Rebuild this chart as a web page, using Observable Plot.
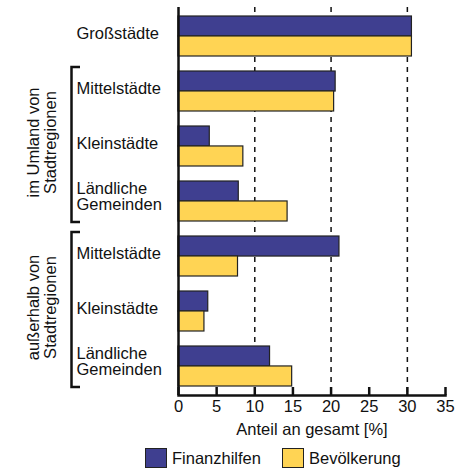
<!DOCTYPE html>
<html><head><meta charset="utf-8">
<script src="https://cdn.jsdelivr.net/npm/d3@7"></script>
<script src="https://cdn.jsdelivr.net/npm/@observablehq/plot@0.6"></script>
<style>
body{margin:0;background:#fff;font-family:"Liberation Sans",Arial,sans-serif;}
#legend{display:flex;align-items:center;height:26px;padding-left:145px;font-size:16.5px;color:#111;}
.sw{width:20px;height:18px;border:1.5px solid #222;margin-right:5px;box-sizing:content-box;}
.item{display:flex;align-items:center;margin-right:21px;}
</style></head><body><div id="chart"></div><div id="legend"></div>
<script>
const categories = ["Großstädte","Mittelstädte","Kleinstädte","Ländliche\nGemeinden","Mittelstädte","Kleinstädte","Ländliche\nGemeinden"];
const finanzhilfen = [30.6, 20.6, 4.1, 7.9, 21.1, 3.9, 12.0];
const bevoelkerung = [30.6, 20.4, 8.5, 14.3, 7.8, 3.4, 14.9];
const xTicks = [0, 5, 10, 15, 20, 25, 30, 35];
const gridValues = [10, 20, 30];
const seriesNames = ["Finanzhilfen", "Bevölkerung"];
const seriesColors = ["#3f3f90", "#ffd454"];
const groupLabels = ["im Umland von\nStadtregionen", "außerhalb von\nStadtregionen"];
const groupFrom = [1, 4];
const groupTo = [3, 6];
const axisLabel = "Anteil an gesamt [%]";

const idx = d3.range(categories.length);
const rows = idx.map(i => ({i, cat: categories[i], fin: finanzhilfen[i], bev: bevoelkerung[i]}));
const W = 459, H = 445, mL = 178, mR = 14, mT = 7, mB = 50;
const FONT = "Liberation Sans, Arial, sans-serif";
const FS = 16.5;
const bw = (H - mT - mB) / categories.length * 0.72;
const half = bw / 2;
const innerH = H - mT - mB;

const chart = Plot.plot({
  width: W, height: H, marginLeft: mL, marginRight: mR, marginTop: mT, marginBottom: mB,
  style: {fontFamily: FONT, fontSize: FS + "px", color: "#111", background: "#fff", overflow: "visible"},
  x: {domain: [0, 35]},
  y: {domain: idx, paddingInner: 0.28, paddingOuter: 0.14, axis: null},
  marks: [
    Plot.ruleX(gridValues, {stroke: "#111", strokeWidth: 1.5, strokeDasharray: "5,5"}),
    Plot.barX(rows, {y: "i", x: "fin", fill: seriesColors[0], stroke: "#222", strokeWidth: 1.2, insetBottom: half}),
    Plot.barX(rows, {y: "i", x: "bev", fill: seriesColors[1], stroke: "#222", strokeWidth: 1.2, insetTop: half}),
    Plot.text(rows.filter(d => !d.cat.includes("\n")), {y: "i", text: "cat", frameAnchor: "left", textAnchor: "start", dx: -102, dy: -2.5, fontSize: FS, fill: "#111"}),
    Plot.text(rows.filter(d => d.cat.includes("\n")), {y: "i", text: "cat", frameAnchor: "left", textAnchor: "start", dx: -102, dy: -5, lineHeight: 1, fontSize: FS, fill: "#111"}),
    Plot.ruleX(xTicks, {stroke: "#111", strokeWidth: 2.5, insetTop: innerH - 8}),
    Plot.ruleX([0], {stroke: "#111", strokeWidth: 2.5}),
    Plot.frame({anchor: "bottom", stroke: "#111", strokeWidth: 2.5}),
    Plot.axisX({ticks: xTicks, tickSize: 0, tickPadding: 5, tickFormat: "d", fontSize: FS, label: null}),
    Plot.text([axisLabel], {frameAnchor: "bottom", dy: 39, fontSize: FS, fill: "#111"})
  ]
});

const y = chart.scale("y");
const svg = d3.select(chart.tagName === "svg" ? chart : chart.querySelector("svg"));
const g = svg.append("g");
groupLabels.forEach((lab, k) => {
  const top = y.apply(groupFrom[k]) - 4;
  const bot = y.apply(groupTo[k]) + y.bandwidth + 1;
  g.append("path").attr("d", `M80,${top}H71.5V${bot}H80`).attr("fill", "none").attr("stroke", "#111").attr("stroke-width", 2.5);
  const cy = (top + bot) / 2 - 2;
  const t = g.append("text").attr("transform", `translate(0,${cy}) rotate(-90)`)
    .attr("text-anchor", "middle").attr("font-family", FONT).attr("font-size", FS).attr("fill", "#111");
  lab.split("\n").forEach((line, j) => {
    t.append("tspan").attr("x", 0).attr("y", 39 + j * 17).text(line);
  });
});

document.getElementById("chart").appendChild(chart);
const legend = d3.select("#legend");
seriesNames.forEach((n, k) => {
  const it = legend.append("div").attr("class", "item");
  it.append("div").attr("class", "sw").style("background", seriesColors[k]);
  it.append("span").text(n);
});
</script></body></html>
